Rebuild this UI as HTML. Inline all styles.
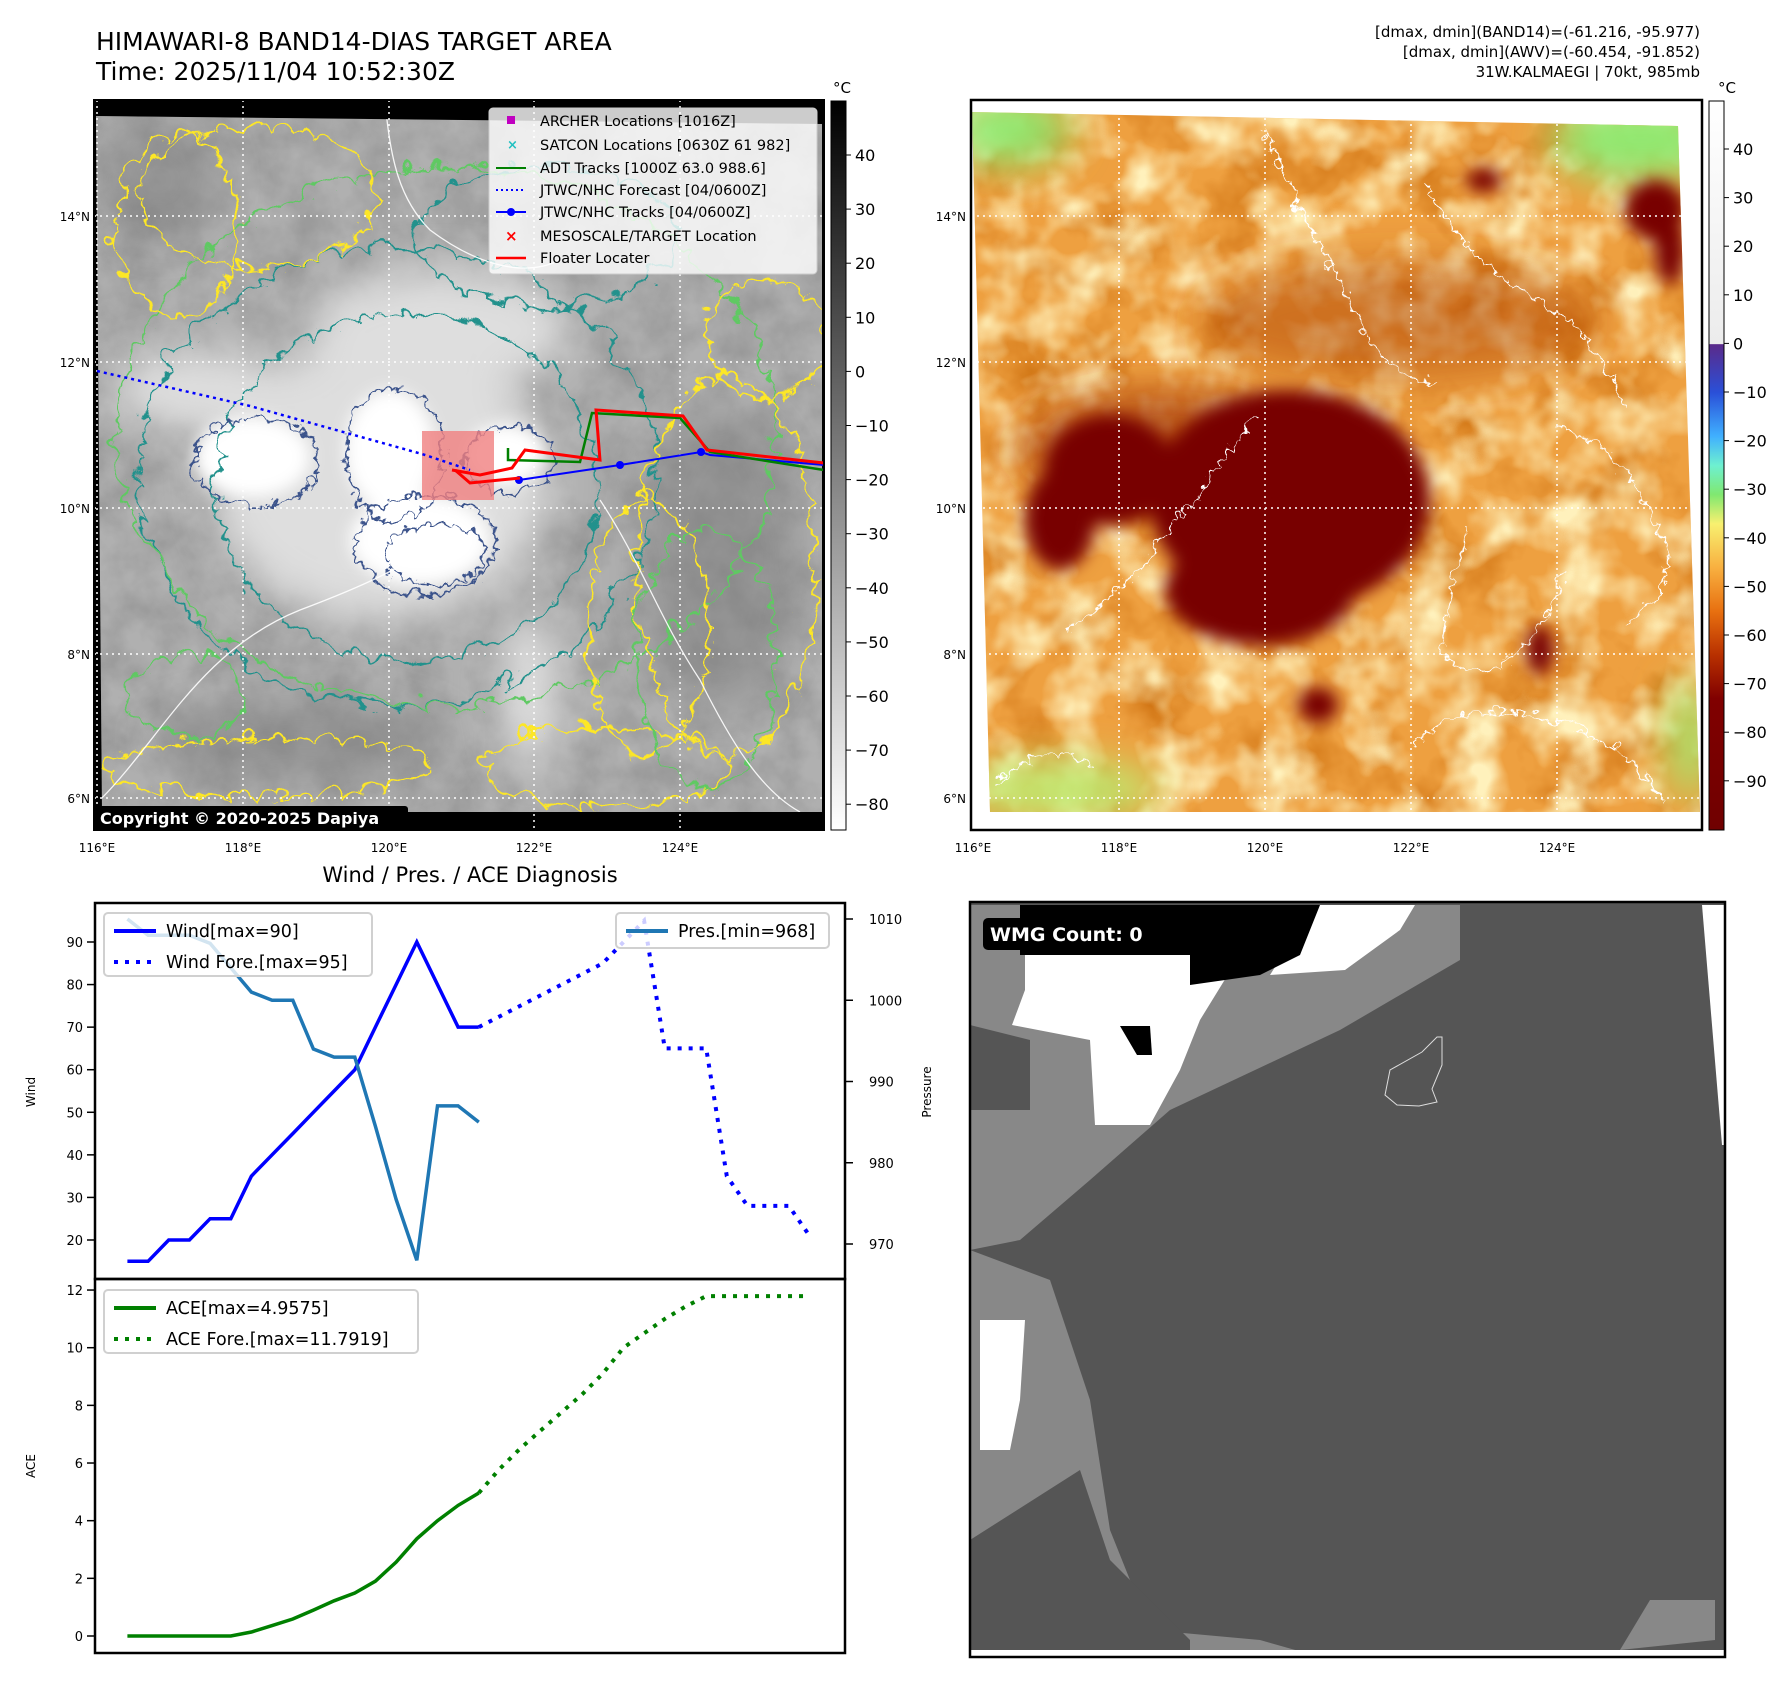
<!DOCTYPE html>
<html><head><meta charset="utf-8">
<style>
html,body{margin:0;padding:0;background:#fff;}
body{width:1788px;height:1690px;position:relative;overflow:hidden;font-family:"Liberation Sans","DejaVu Sans",sans-serif;}
svg{position:absolute;left:0;top:0;}
text{font-family:"DejaVu Sans","Liberation Sans",sans-serif;}
</style></head>
<body>
<svg id="fig" width="1788" height="1690" viewBox="0 0 1788 1690">
<defs>
  <filter id="grayNoise" x="0" y="0" width="100%" height="100%">
    <feTurbulence type="fractalNoise" baseFrequency="0.025" numOctaves="4" seed="3"/>
    <feColorMatrix type="matrix" values="0 0 0 0 0.2  0 0 0 0 0.2  0 0 0 0 0.2  0 0 0 -1.4 1.0"/>
  </filter>
  <filter id="orangeNoise" x="0" y="0" width="100%" height="100%">
    <feTurbulence type="fractalNoise" baseFrequency="0.015" numOctaves="4" seed="7"/>
    <feColorMatrix type="matrix" values="0 0 0 0 0.55  0 0 0 0 0.12  0 0 0 0 0  1.6 0 0 0 -0.75"/>
  </filter>
  <filter id="yellowNoise" x="0" y="0" width="100%" height="100%">
    <feTurbulence type="fractalNoise" baseFrequency="0.02" numOctaves="3" seed="11"/>
    <feColorMatrix type="matrix" values="0 0 0 0 1  0 0 0 0 0.88  0 0 0 0 0.5  2.4 0 0 0 -0.95"/>
  </filter>
  <filter id="wiggle" x="-20%" y="-20%" width="140%" height="140%">
    <feTurbulence type="turbulence" baseFrequency="0.035" numOctaves="2" seed="5" result="t"/>
    <feDisplacementMap in="SourceGraphic" in2="t" scale="26" xChannelSelector="R" yChannelSelector="G"/>
  </filter>
  <filter id="wiggle2" x="-20%" y="-20%" width="140%" height="140%">
    <feTurbulence type="turbulence" baseFrequency="0.06" numOctaves="2" seed="9" result="t"/>
    <feDisplacementMap in="SourceGraphic" in2="t" scale="18" xChannelSelector="R" yChannelSelector="G"/>
  </filter>
  <filter id="blur8"><feGaussianBlur stdDeviation="8"/></filter>
  <filter id="blur20"><feGaussianBlur stdDeviation="20"/></filter>
  <linearGradient id="cbGray" x1="0" y1="0" x2="0" y2="1">
    <stop offset="0" stop-color="#000"/><stop offset="1" stop-color="#fff"/>
  </linearGradient>
  <linearGradient id="cbColor" x1="0" y1="0" x2="0" y2="1">
    <stop offset="0" stop-color="#ffffff"/>
    <stop offset="0.333" stop-color="#ececec"/>
    <stop offset="0.334" stop-color="#5a2a8a"/>
    <stop offset="0.40" stop-color="#2a50d8"/>
    <stop offset="0.46" stop-color="#40b0ff"/>
    <stop offset="0.50" stop-color="#6ef0d0"/>
    <stop offset="0.54" stop-color="#80e870"/>
    <stop offset="0.58" stop-color="#f8f070"/>
    <stop offset="0.64" stop-color="#f8b040"/>
    <stop offset="0.70" stop-color="#e87010"/>
    <stop offset="0.76" stop-color="#b83000"/>
    <stop offset="0.82" stop-color="#800000"/>
    <stop offset="1" stop-color="#700000"/>
  </linearGradient>
  <clipPath id="clipL"><rect x="94" y="100" width="730" height="730"/></clipPath>
  <clipPath id="clipImgL"><polygon points="96,116 822,124 822,812 102,812"/></clipPath>
  <clipPath id="clipImgR"><polygon points="972,112 1678,126 1700,812 990,812"/></clipPath>
  <clipPath id="clipBR"><rect x="970" y="902" width="755" height="755"/></clipPath>
  <clipPath id="clipBL"><rect x="95" y="903" width="750" height="750"/></clipPath>
</defs>

<!-- ===== Titles ===== -->
<text x="96" y="50" font-size="25" fill="#000">HIMAWARI-8 BAND14-DIAS TARGET AREA</text>
<text x="96" y="80" font-size="25" fill="#000">Time: 2025/11/04 10:52:30Z</text>
<g font-size="15" text-anchor="end" fill="#000">
  <text x="1700" y="37">[dmax, dmin](BAND14)=(-61.216, -95.977)</text>
  <text x="1700" y="57">[dmax, dmin](AWV)=(-60.454, -91.852)</text>
  <text x="1700" y="77">31W.KALMAEGI | 70kt, 985mb</text>
</g>

<!-- ===== Top-left IR map ===== -->
<g>
  <rect x="94" y="100" width="730" height="730" fill="#000"/>
  <g clip-path="url(#clipImgL)">
    <rect x="94" y="100" width="730" height="730" fill="#b0b0b0"/>
    <rect x="94" y="100" width="730" height="730" filter="url(#grayNoise)" opacity="0.55"/>
    <g filter="url(#blur20)" fill="#dedede">
      <ellipse cx="380" cy="480" rx="170" ry="140"/>
      <ellipse cx="440" cy="330" rx="130" ry="60"/>
      <ellipse cx="200" cy="390" rx="90" ry="40"/>
      <ellipse cx="530" cy="690" rx="30" ry="80"/>
    </g>
    <g filter="url(#blur20)" fill="#7a7a7a" opacity="0.5">
      <ellipse cx="720" cy="560" rx="80" ry="150"/>
      <ellipse cx="300" cy="740" rx="150" ry="40"/>
      <ellipse cx="160" cy="180" rx="60" ry="60"/>
    </g>
    <g filter="url(#blur8)" fill="#fff">
      <ellipse cx="252" cy="457" rx="58" ry="40"/>
      <ellipse cx="390" cy="450" rx="45" ry="60"/>
      <ellipse cx="420" cy="540" rx="70" ry="45"/>
      <ellipse cx="505" cy="455" rx="40" ry="30"/>
    </g>
    <g fill="none" stroke-width="2.2" filter="url(#wiggle)">
      <ellipse cx="400" cy="480" rx="190" ry="175" stroke="#21918c"/>
      <ellipse cx="390" cy="470" rx="260" ry="230" stroke="#21918c"/>
      <ellipse cx="440" cy="430" rx="330" ry="270" stroke="#5ec962"/>
      <ellipse cx="250" cy="190" rx="120" ry="70" stroke="#fde725"/>
      <ellipse cx="170" cy="220" rx="60" ry="90" stroke="#fde725"/>
      <ellipse cx="720" cy="560" rx="90" ry="190" stroke="#fde725"/>
      <ellipse cx="640" cy="620" rx="60" ry="130" stroke="#fde725"/>
      <ellipse cx="760" cy="330" rx="60" ry="60" stroke="#fde725"/>
      <ellipse cx="260" cy="760" rx="160" ry="30" stroke="#fde725"/>
      <ellipse cx="600" cy="760" rx="120" ry="40" stroke="#fde725"/>
      <ellipse cx="180" cy="690" rx="60" ry="40" stroke="#5ec962"/>
      <ellipse cx="700" cy="650" rx="70" ry="130" stroke="#5ec962"/>
      <ellipse cx="540" cy="230" rx="130" ry="70" stroke="#21918c"/>
    </g>
    <g fill="none" stroke="#3b528b" stroke-width="2" filter="url(#wiggle2)">
      <ellipse cx="252" cy="457" rx="62" ry="44"/>
      <ellipse cx="390" cy="450" rx="50" ry="66"/>
      <ellipse cx="420" cy="540" rx="70" ry="50"/>
      <ellipse cx="505" cy="455" rx="45" ry="34"/>
      <ellipse cx="430" cy="550" rx="50" ry="30"/>
    </g>
    <g fill="none" stroke="#fff" stroke-width="1.3" opacity="0.9">
      <path d="M100,800 C160,740 200,650 300,610 C380,580 420,560 460,520"/>
      <path d="M385,100 C390,160 400,200 430,230 C470,260 520,280 560,260"/>
      <path d="M600,500 C640,560 660,620 700,680 C730,740 760,790 800,812"/>
    </g>
  </g>
  <g stroke="#fff" stroke-width="1.5" stroke-dasharray="2,4" clip-path="url(#clipL)">
    <line x1="97" y1="100" x2="97" y2="830"/><line x1="243" y1="100" x2="243" y2="830"/>
    <line x1="389" y1="100" x2="389" y2="830"/><line x1="534" y1="100" x2="534" y2="830"/>
    <line x1="680" y1="100" x2="680" y2="830"/>
    <line x1="94" y1="216" x2="824" y2="216"/><line x1="94" y1="362" x2="824" y2="362"/>
    <line x1="94" y1="508" x2="824" y2="508"/><line x1="94" y1="654" x2="824" y2="654"/>
    <line x1="94" y1="798" x2="824" y2="798"/>
  </g>
  <g clip-path="url(#clipL)">
    <rect x="422" y="431" width="72" height="69" fill="#f08080" opacity="0.8"/>
    <polyline points="97,371 250,406 422,454 470,470" fill="none" stroke="#0000ff" stroke-width="2.5" stroke-dasharray="3,4"/>
    <polyline points="519,480 620,465 701,452 710,455 824,465" fill="none" stroke="#0000ff" stroke-width="2"/>
    <g fill="#0000ff"><circle cx="519" cy="480" r="4"/><circle cx="620" cy="465" r="4"/><circle cx="701" cy="452" r="4"/></g>
    <polyline points="508,448 508,460 580,462 592,413 680,418 710,452 824,470" fill="none" stroke="#008000" stroke-width="2.5"/>
    <polyline points="452,470 480,475 512,468 525,450 600,460 596,410 683,416 707,450 824,463" fill="none" stroke="#ff0000" stroke-width="3"/>
    <polyline points="455,470 470,483 520,478" fill="none" stroke="#ff0000" stroke-width="3"/>
  </g>
  <rect x="94" y="100" width="730" height="730" fill="none" stroke="#000" stroke-width="2"/>
  <g>
    <rect x="489" y="108" width="328" height="166" rx="4" fill="#fff" fill-opacity="0.8" stroke="#ccc"/>
    <rect x="507" y="116" width="8" height="8" fill="#c000c0"/>
    <text x="507" y="149" font-size="13" fill="#20c0c0" font-weight="bold">×</text>
    <line x1="496" y1="168" x2="526" y2="168" stroke="#008000" stroke-width="2"/>
    <line x1="496" y1="190" x2="526" y2="190" stroke="#0000ff" stroke-width="2" stroke-dasharray="2,3"/>
    <line x1="496" y1="212" x2="526" y2="212" stroke="#0000ff" stroke-width="2"/><circle cx="511" cy="212" r="4" fill="#0000ff"/>
    <text x="505" y="241" font-size="15" fill="#ff0000" font-weight="bold">×</text>
    <line x1="496" y1="258" x2="526" y2="258" stroke="#ff0000" stroke-width="2.5"/>
    <g font-size="14.5" fill="#000">
      <text x="540" y="126">ARCHER Locations [1016Z]</text>
      <text x="540" y="150">SATCON Locations [0630Z 61 982]</text>
      <text x="540" y="173">ADT Tracks [1000Z 63.0 988.6]</text>
      <text x="540" y="195">JTWC/NHC Forecast [04/0600Z]</text>
      <text x="540" y="217">JTWC/NHC Tracks [04/0600Z]</text>
      <text x="540" y="241">MESOSCALE/TARGET Location</text>
      <text x="540" y="263">Floater Locater</text>
    </g>
  </g>
  <rect x="95" y="806" width="313" height="23" rx="3" fill="#000"/>
  <text x="100" y="824" font-size="16" font-weight="bold" fill="#fff">Copyright © 2020-2025 Dapiya</text>
</g>
<g font-size="12" fill="#000">
  <g text-anchor="end"><text x="90" y="221">14°N</text><text x="90" y="367">12°N</text><text x="90" y="513">10°N</text><text x="90" y="659">8°N</text><text x="90" y="803">6°N</text></g>
  <g text-anchor="middle"><text x="97" y="852">116°E</text><text x="243" y="852">118°E</text><text x="389" y="852">120°E</text><text x="534" y="852">122°E</text><text x="680" y="852">124°E</text></g>
</g>
<g>
  <rect x="831" y="101" width="15" height="729" fill="url(#cbGray)" stroke="#000" stroke-width="1"/>
  <text x="842" y="93" font-size="15" text-anchor="middle">°C</text>
  <g id="cbL" font-size="16"></g>
</g>

<!-- ===== Top-right colour map ===== -->
<g>
  <rect x="971" y="100" width="731" height="730" fill="#fff"/>
  <g clip-path="url(#clipImgR)">
    <rect x="960" y="100" width="760" height="730" fill="#eea040"/>
    <rect x="960" y="100" width="760" height="730" filter="url(#orangeNoise)"/>
    <rect x="960" y="100" width="760" height="730" filter="url(#yellowNoise)"/>
    <g filter="url(#blur20)">
      <ellipse cx="1010" cy="130" rx="60" ry="35" fill="#90e870"/>
      <ellipse cx="1640" cy="140" rx="90" ry="40" fill="#90e870"/>
      <ellipse cx="1060" cy="790" rx="100" ry="30" fill="#c0e870"/>
      <ellipse cx="1690" cy="740" rx="20" ry="60" fill="#a0e870"/>
      <ellipse cx="1160" cy="450" rx="140" ry="60" fill="#a03000" opacity="0.7"/>
      <ellipse cx="1400" cy="320" rx="200" ry="60" fill="#b04000" opacity="0.5"/>
    </g>
    <g filter="url(#blur8)" fill="#780000">
      <ellipse cx="1290" cy="500" rx="140" ry="110"/>
      <ellipse cx="1260" cy="590" rx="95" ry="55"/>
      <ellipse cx="1110" cy="470" rx="65" ry="55"/>
      <ellipse cx="1060" cy="520" rx="35" ry="50"/>
      <ellipse cx="1655" cy="210" rx="30" ry="30"/>
      <ellipse cx="1670" cy="250" rx="15" ry="35"/>
      <ellipse cx="1484" cy="180" rx="18" ry="12"/>
      <ellipse cx="1318" cy="705" rx="20" ry="18"/>
      <ellipse cx="1540" cy="650" rx="14" ry="25"/>
    </g>
    <g fill="none" stroke="#fff" stroke-width="1.4" filter="url(#wiggle2)">
      <path d="M1060,625 C1100,600 1140,560 1170,520 C1200,480 1230,440 1250,410"/>
      <path d="M1260,125 C1290,200 1330,260 1360,330 C1380,360 1400,370 1430,380"/>
      <path d="M1420,180 C1450,240 1500,280 1540,300 C1580,320 1600,360 1620,400"/>
      <path d="M1460,520 C1450,600 1420,640 1450,660 C1500,690 1540,620 1560,570"/>
      <path d="M1410,740 C1450,700 1500,700 1560,720 C1600,730 1640,760 1660,800"/>
      <path d="M1550,420 C1600,430 1640,480 1660,540 C1670,580 1640,610 1620,620"/>
      <path d="M990,780 C1020,750 1060,740 1090,760"/>
    </g>
  </g>
  <g stroke="#fff" stroke-width="1.5" stroke-dasharray="2,4">
    <line x1="1119" y1="100" x2="1119" y2="830"/><line x1="1265" y1="100" x2="1265" y2="830"/>
    <line x1="1411" y1="100" x2="1411" y2="830"/><line x1="1557" y1="100" x2="1557" y2="830"/>
    <line x1="971" y1="216" x2="1702" y2="216"/><line x1="971" y1="362" x2="1702" y2="362"/>
    <line x1="971" y1="508" x2="1702" y2="508"/><line x1="971" y1="654" x2="1702" y2="654"/>
    <line x1="971" y1="798" x2="1702" y2="798"/>
  </g>
  <rect x="971" y="100" width="731" height="730" fill="none" stroke="#000" stroke-width="2.5"/>
</g>
<g font-size="12" fill="#000">
  <g text-anchor="end"><text x="966" y="221">14°N</text><text x="966" y="367">12°N</text><text x="966" y="513">10°N</text><text x="966" y="659">8°N</text><text x="966" y="803">6°N</text></g>
  <g text-anchor="middle"><text x="973" y="852">116°E</text><text x="1119" y="852">118°E</text><text x="1265" y="852">120°E</text><text x="1411" y="852">122°E</text><text x="1557" y="852">124°E</text></g>
</g>
<g>
  <rect x="1709" y="101" width="15" height="729" fill="url(#cbColor)" stroke="#000" stroke-width="1"/>
  <text x="1727" y="93" font-size="15" text-anchor="middle">°C</text>
  <g id="cbR" font-size="16"></g>
</g>

<!-- ===== Bottom-left diagnosis chart ===== -->
<text x="470" y="882" font-size="21" text-anchor="middle">Wind / Pres. / ACE Diagnosis</text>
<g id="diag"></g>

<!-- ===== Bottom-right WMG panel ===== -->
<g>
  <g clip-path="url(#clipBR)">
    <rect x="970" y="902" width="755" height="755" fill="#555555"/>
    <polygon fill="#888" points="970,905 1460,905 1460,960 1340,1030 1170,1110 1090,1180 1020,1240 970,1250"/>
    <polygon fill="#555" points="970,1025 1030,1040 1030,1110 970,1110"/>
    <polygon fill="#fff" points="1025,955 1240,955 1200,1020 1180,1070 1150,1125 1095,1125 1090,1040 1012,1025 1025,990"/>
    <polygon fill="#fff" points="1310,905 1415,905 1400,930 1345,970 1270,975 1295,935"/>
    <polygon fill="#000" points="1020,905 1320,905 1300,955 1260,975 1190,985 1190,955 1020,955"/>
    <polygon fill="#000" points="1120,1026 1150,1026 1152,1055 1137,1055"/>
    <polygon fill="#888" points="970,1250 1050,1280 1090,1400 1110,1530 1150,1630 1260,1640 1320,1657 970,1657"/>
    <polygon fill="#555" points="970,1540 1080,1470 1110,1560 1190,1640 1190,1657 970,1657"/>
    <polygon fill="#fff" points="980,1320 1025,1320 1020,1400 1010,1450 980,1450"/>
    <polygon fill="#888" points="1650,1600 1715,1600 1715,1640 1620,1650"/>
    <polygon fill="#fff" points="1702,905 1725,905 1725,1145 1722,1145"/>
    <rect x="970" y="1650" width="755" height="7" fill="#fff"/>
    <path d="M1385,1095 L1390,1070 L1422,1052 L1437,1037 L1442,1037 L1442,1065 L1432,1089 L1437,1102 L1419,1106 L1397,1105 Z" fill="none" stroke="#ddd" stroke-width="1"/>
  </g>
  <rect x="970" y="902" width="755" height="755" fill="none" stroke="#000" stroke-width="2.5"/>
  <rect x="983" y="918" width="177" height="32" rx="5" fill="#000"/>
  <text x="990" y="941" font-size="19" font-weight="bold" fill="#fff">WMG Count: 0</text>
</g>

</svg>
<script>
const NS='http://www.w3.org/2000/svg';
function mk(tag,attrs,parent){const e=document.createElementNS(NS,tag);for(const k in attrs)e.setAttribute(k,attrs[k]);parent.appendChild(e);return e;}

// colorbar ticks
const cbLTicks=[40,30,20,10,0,-10,-20,-30,-40,-50,-60,-70,-80];
const cbRTicks=[40,30,20,10,0,-10,-20,-30,-40,-50,-60,-70,-80,-90];
const cbL=document.getElementById('cbL');
cbLTicks.forEach(v=>{const y=155+(40-v)*5.41;
  mk('line',{x1:846,x2:851,y1:y,y2:y,stroke:'#000'},cbL);
  const t=mk('text',{x:855,y:y+6},cbL);t.textContent=(v<0?'\u2212'+(-v):v);
  
  });
const cbR=document.getElementById('cbR');
cbRTicks.forEach(v=>{const y=149+(40-v)*4.86;
  mk('line',{x1:1724,x2:1729,y1:y,y2:y,stroke:'#000'},cbR);
  const t=mk('text',{x:1733,y:y+6},cbR);t.textContent=(v<0?'\u2212'+(-v):v);
  
  });

// ===== diagnosis chart data =====
const obsIdx=[0,1,2,3,4,5,6,7,8,9,10,11,12,13,14,15,16,17];
const windObs=[15,15,20,20,25,25,35,40,45,50,55,60,70,80,90,80,70,70];
const presObs=[1010,1008,1008,1008,1007,1004,1001,1000,1000,994,993,993,984.5,975.5,968,987,987,985];
const aceObs=[0,0,0,0,0,0,0.14,0.36,0.59,0.9,1.22,1.49,1.9,2.56,3.37,4.0,4.53,4.96];
const foreIdx=[17,19,21,23,24,25,26,28,29,30,32,33];
const windFore=[70,75,80,85,90,95,65,65,35,28,28,21];
const aceForeIdx=[17,18,19,20,21,22,23,24,25,26,27,28,29,30,31,32,33];
const aceFore=[4.96,5.79,6.5,7.13,7.76,8.38,9.1,10.0,10.5,11.0,11.43,11.79,11.79,11.79,11.79,11.79,11.79];
const windTicks=[20,30,40,50,60,70,80,90];
const presTicks=[970,980,990,1000,1010];
const aceTicks=[0,2,4,6,8,10,12];

const xS=i=>127.4+20.67*i;
const yW=w=>942+(90-w)*4.257;
const yP=p=>919+(1010-p)*8.125;
const yA=a=>1636-a*28.83;

const g=document.getElementById('diag');
function poly(xs,ys,fx,fy,attrs,name){
  const pts=xs.map((x,k)=>fx(x).toFixed(1)+','+fy(ys[k]).toFixed(1)).join(' ');
  const p=mk('polyline',Object.assign({points:pts,fill:'none'},attrs),g);
  
  
  return p;}

mk('rect',{x:95,y:903,width:750,height:376,fill:'#fff',stroke:'none'},g);
// series
poly(foreIdx,windFore,xS,yW,{stroke:'#0000ff','stroke-width':4,'stroke-dasharray':'4,7'},'wind-forecast-line');
poly(obsIdx,windObs,xS,yW,{stroke:'#0000ff','stroke-width':3.5},'wind-line');
poly(obsIdx,presObs,xS,yP,{stroke:'#1f77b4','stroke-width':3.5},'pressure-line');
poly(aceForeIdx,aceFore,xS,yA,{stroke:'#008000','stroke-width':4,'stroke-dasharray':'4,7'},'ace-forecast-line');
poly(obsIdx,aceObs,xS,yA,{stroke:'#008000','stroke-width':3.5},'ace-line');

// frames
mk('rect',{x:95,y:903,width:750,height:376,fill:'none',stroke:'#000','stroke-width':2.5},g);
mk('rect',{x:95,y:1279,width:750,height:374,fill:'none',stroke:'#000','stroke-width':2.5},g);

// ticks
windTicks.forEach(v=>{const y=yW(v);mk('line',{x1:87,x2:95,y1:y,y2:y,stroke:'#000','stroke-width':1.5},g);
  const t=mk('text',{x:83,y:y+5,'font-size':13,'text-anchor':'end'},g);t.textContent=v;
  
  });
presTicks.forEach(v=>{const y=yP(v);mk('line',{x1:845,x2:853,y1:y,y2:y,stroke:'#000','stroke-width':1.5},g);
  const t=mk('text',{x:869,y:y+5,'font-size':13},g);t.textContent=v;
  
  });
aceTicks.forEach(v=>{const y=yA(v);mk('line',{x1:87,x2:95,y1:y,y2:y,stroke:'#000','stroke-width':1.5},g);
  const t=mk('text',{x:83,y:y+5,'font-size':13,'text-anchor':'end'},g);t.textContent=v;
  
  });

// axis titles
let t=mk('text',{x:0,y:0,'font-size':12,'text-anchor':'middle',transform:'translate(35,1092) rotate(-90)'},g);t.textContent='Wind';

t=mk('text',{x:0,y:0,'font-size':12,'text-anchor':'middle',transform:'translate(931,1092) rotate(-90)'},g);t.textContent='Pressure';

t=mk('text',{x:0,y:0,'font-size':12,'text-anchor':'middle',transform:'translate(35,1466) rotate(-90)'},g);t.textContent='ACE';


// legends
function legend(x,y,w,h,items,name){
  const lg=mk('g',{},g);
  
  
  mk('rect',{x:x,y:y,width:w,height:h,rx:4,fill:'#fff','fill-opacity':0.8,stroke:'#d0d0d0','stroke-width':2},lg);
  items.forEach((it,k)=>{const cy=y+18+k*31;
    const a={x1:x+10,x2:x+52,y1:cy,y2:cy,stroke:it.c,'stroke-width':4};
    if(it.d)a['stroke-dasharray']='4,7';
    mk('line',a,lg);
    const tt=mk('text',{x:x+62,y:cy+6,'font-size':17.5},lg);tt.textContent=it.t;});
}
legend(104,913,268,63,[{c:'#0000ff',t:'Wind[max=90]'},{c:'#0000ff',t:'Wind Fore.[max=95]',d:1}],'wind-legend');
legend(616,913,213,35,[{c:'#1f77b4',t:'Pres.[min=968]'}],'pressure-legend');
legend(104,1290,314,63,[{c:'#008000',t:'ACE[max=4.9575]'},{c:'#008000',t:'ACE Fore.[max=11.7919]',d:1}],'ace-legend');
</script>
</body></html>
